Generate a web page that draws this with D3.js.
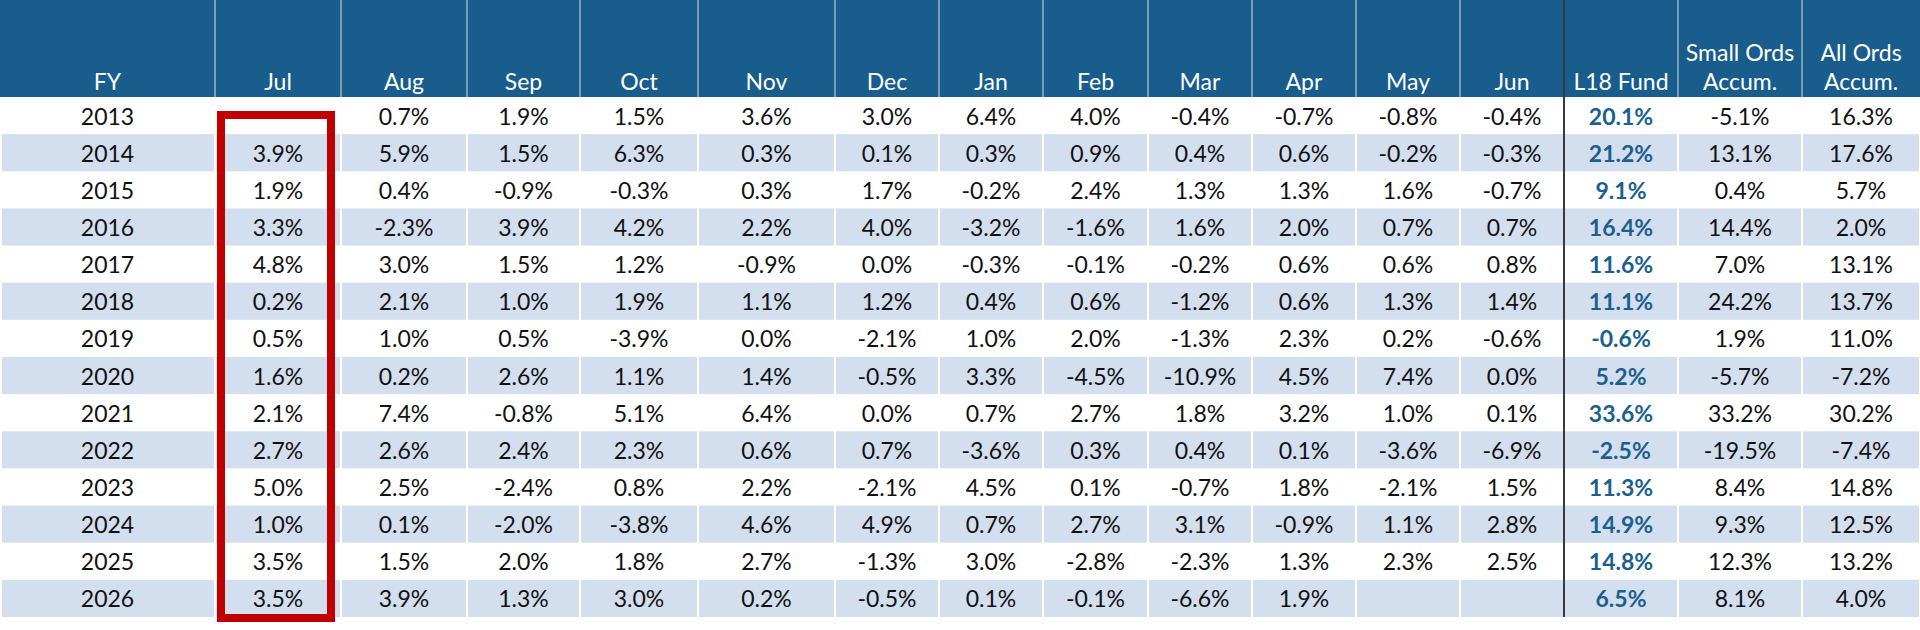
<!DOCTYPE html>
<html>
<head>
<meta charset="UTF-8">
<title>Monthly returns table</title>
<script src="https://d3js.org/d3.v7.min.js"></script>
<style>
  body { margin: 0; background: #fff; }
  text { font-family: Lato, "Open Sans", sans-serif; font-size: 23px; }
  .head text { fill: #fff; }
  .cell text { fill: #111; }
  .cell text.fund { fill: #1a5f8d; font-weight: bold; }
</style>
</head>
<body>
<script>
var years = [2013, 2014, 2015, 2016, 2017, 2018, 2019, 2020, 2021, 2022, 2023, 2024, 2025, 2026];
var headers = [["FY"], ["Jul"], ["Aug"], ["Sep"], ["Oct"], ["Nov"], ["Dec"], ["Jan"], ["Feb"], ["Mar"], ["Apr"], ["May"], ["Jun"],
               ["L18 Fund"], ["Small Ords", "Accum."], ["All Ords", "Accum."]];

// monthly returns Jul..Jun, null = no figure
var monthly = [
  [null, 0.7, 1.9, 1.5, 3.6, 3.0, 6.4, 4.0, -0.4, -0.7, -0.8, -0.4],
  [3.9, 5.9, 1.5, 6.3, 0.3, 0.1, 0.3, 0.9, 0.4, 0.6, -0.2, -0.3],
  [1.9, 0.4, -0.9, -0.3, 0.3, 1.7, -0.2, 2.4, 1.3, 1.3, 1.6, -0.7],
  [3.3, -2.3, 3.9, 4.2, 2.2, 4.0, -3.2, -1.6, 1.6, 2.0, 0.7, 0.7],
  [4.8, 3.0, 1.5, 1.2, -0.9, 0.0, -0.3, -0.1, -0.2, 0.6, 0.6, 0.8],
  [0.2, 2.1, 1.0, 1.9, 1.1, 1.2, 0.4, 0.6, -1.2, 0.6, 1.3, 1.4],
  [0.5, 1.0, 0.5, -3.9, 0.0, -2.1, 1.0, 2.0, -1.3, 2.3, 0.2, -0.6],
  [1.6, 0.2, 2.6, 1.1, 1.4, -0.5, 3.3, -4.5, -10.9, 4.5, 7.4, 0.0],
  [2.1, 7.4, -0.8, 5.1, 6.4, 0.0, 0.7, 2.7, 1.8, 3.2, 1.0, 0.1],
  [2.7, 2.6, 2.4, 2.3, 0.6, 0.7, -3.6, 0.3, 0.4, 0.1, -3.6, -6.9],
  [5.0, 2.5, -2.4, 0.8, 2.2, -2.1, 4.5, 0.1, -0.7, 1.8, -2.1, 1.5],
  [1.0, 0.1, -2.0, -3.8, 4.6, 4.9, 0.7, 2.7, 3.1, -0.9, 1.1, 2.8],
  [3.5, 1.5, 2.0, 1.8, 2.7, -1.3, 3.0, -2.8, -2.3, 1.3, 2.3, 2.5],
  [3.5, 3.9, 1.3, 3.0, 0.2, -0.5, 0.1, -0.1, -6.6, 1.9, null, null]
];
var fund = [20.1, 21.2, 9.1, 16.4, 11.6, 11.1, -0.6, 5.2, 33.6, -2.5, 11.3, 14.9, 14.8, 6.5];
var smallOrds = [-5.1, 13.1, 0.4, 14.4, 7.0, 24.2, 1.9, -5.7, 33.2, -19.5, 8.4, 9.3, 12.3, 8.1];
var allOrds = [16.3, 17.6, 5.7, 2.0, 13.1, 13.7, 11.0, -7.2, 30.2, -7.4, 14.8, 12.5, 13.2, 4.0];

var width = 1920, height = 630;
var headH = 97;
var tableBottom = 617;
// column edges in pixels
var edges = [0, 215, 341, 467, 580, 698, 835, 939, 1043, 1148, 1252, 1356, 1460, 1564, 1678, 1802, 1920];

var blue = "#185d8b";
var band = "#d3deef";
var fmt = function (v) {
    return v == null ? "" : d3.format(".1f")(v).replace("\u2212", "-") + "%";
};

var svg = d3.select("body").append("svg")
    .attr("width", width)
    .attr("height", height);

var yScale = d3.scaleBand()
    .domain(years)
    .range([headH, tableBottom])
    .padding(0);

var cols = d3.range(headers.length);
var colX = function (i) { return edges[i]; };
var colW = function (i) { return edges[i + 1] - edges[i]; };

// header
var head = svg.append("g").attr("class", "head");
head.append("rect")
    .attr("x", 0).attr("y", 0)
    .attr("width", width).attr("height", headH)
    .attr("fill", blue);

head.selectAll("line.sep")
    .data(cols.slice(1))
    .enter().append("line")
    .attr("class", "sep")
    .attr("x1", function (i) { return colX(i); })
    .attr("x2", function (i) { return colX(i); })
    .attr("y1", 0).attr("y2", headH)
    .attr("stroke", "#d6e0ea")
    .attr("stroke-width", 1);

head.selectAll("text")
    .data(cols)
    .enter().append("text")
    .attr("text-anchor", "middle")
    .attr("x", function (i) { return colX(i) + colW(i) / 2; })
    .attr("y", 90)
    .each(function (i) {
        var lines = headers[i];
        var t = d3.select(this);
        lines.forEach(function (l, k) {
            t.append("tspan")
                .attr("x", colX(i) + colW(i) / 2)
                .attr("y", 90 - (lines.length - 1 - k) * 29)
                .text(l);
        });
    });

// body rows
var rows = years.map(function (y, r) {
    return [String(y)].concat(monthly[r].map(fmt), [fmt(fund[r]), fmt(smallOrds[r]), fmt(allOrds[r])]);
});

var rowG = svg.append("g").attr("class", "cell")
    .selectAll("g.row")
    .data(rows)
    .enter().append("g")
    .attr("class", "row")
    .attr("transform", function (d, r) { return "translate(0," + yScale(years[r]) + ")"; });

rowG.filter(function (d, r) { return r % 2 === 1; })
    .selectAll("rect")
    .data(cols)
    .enter().append("rect")
    .attr("x", function (i) { return colX(i) + (i === 0 ? 2 : 1); })
    .attr("width", function (i) { return colW(i) - (i === 0 ? 3 : 2); })
    .attr("y", 0)
    .attr("height", yScale.bandwidth())
    .attr("fill", band);

rowG.selectAll("text")
    .data(function (d) { return d.map(function (v, i) { return { v: v, i: i }; }); })
    .enter().append("text")
    .attr("class", function (c) { return c.i === 13 ? "fund" : null; })
    .attr("text-anchor", "middle")
    .attr("x", function (c) { return colX(c.i) + colW(c.i) / 2; })
    .attr("y", yScale.bandwidth() / 2 + 9)
    .text(function (c) { return c.v; });

// divider before the fund column
svg.append("line")
    .attr("x1", colX(13)).attr("x2", colX(13))
    .attr("y1", 0).attr("y2", tableBottom)
    .attr("stroke", "#3a3a3a")
    .attr("stroke-width", 2);

// highlight box around July column
svg.append("rect")
    .attr("x", colX(1) + 6)
    .attr("y", yScale(years[0]) + 18)
    .attr("width", colW(1) - 16)
    .attr("height", tableBottom + 1 - (yScale(years[0]) + 18))
    .attr("fill", "none")
    .attr("stroke", "#c00000")
    .attr("stroke-width", 8);
</script>
</body>
</html>
